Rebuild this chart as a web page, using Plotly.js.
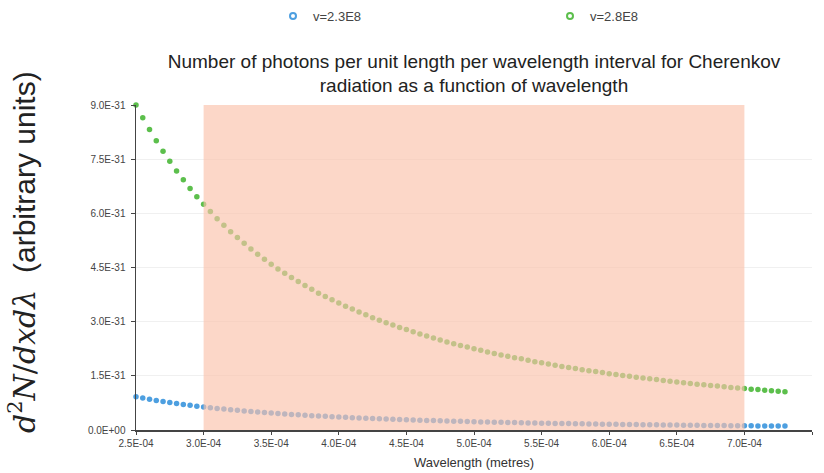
<!DOCTYPE html>
<html>
<head>
<meta charset="utf-8">
<script src="https://cdn.plot.ly/plotly-3.0.1.min.js"></script>
<style>html,body{margin:0;padding:0;background:#fff;}#chart{width:824px;height:473px;}</style>
</head>
<body>
<div id="chart"></div>
<script>
// Wavelength (metres)
const wavelength = [
  2.50e-4,2.55e-4,2.60e-4,2.65e-4,2.70e-4,2.75e-4,2.80e-4,2.85e-4,2.90e-4,2.95e-4,
  3.00e-4,3.05e-4,3.10e-4,3.15e-4,3.20e-4,3.25e-4,3.30e-4,3.35e-4,3.40e-4,3.45e-4,
  3.50e-4,3.55e-4,3.60e-4,3.65e-4,3.70e-4,3.75e-4,3.80e-4,3.85e-4,3.90e-4,3.95e-4,
  4.00e-4,4.05e-4,4.10e-4,4.15e-4,4.20e-4,4.25e-4,4.30e-4,4.35e-4,4.40e-4,4.45e-4,
  4.50e-4,4.55e-4,4.60e-4,4.65e-4,4.70e-4,4.75e-4,4.80e-4,4.85e-4,4.90e-4,4.95e-4,
  5.00e-4,5.05e-4,5.10e-4,5.15e-4,5.20e-4,5.25e-4,5.30e-4,5.35e-4,5.40e-4,5.45e-4,
  5.50e-4,5.55e-4,5.60e-4,5.65e-4,5.70e-4,5.75e-4,5.80e-4,5.85e-4,5.90e-4,5.95e-4,
  6.00e-4,6.05e-4,6.10e-4,6.15e-4,6.20e-4,6.25e-4,6.30e-4,6.35e-4,6.40e-4,6.45e-4,
  6.50e-4,6.55e-4,6.60e-4,6.65e-4,6.70e-4,6.75e-4,6.80e-4,6.85e-4,6.90e-4,6.95e-4,
  7.00e-4,7.05e-4,7.10e-4,7.15e-4,7.20e-4,7.25e-4,7.30e-4
];
// v = 2.3E8
const v23 = [
  0.920e-31,0.884e-31,0.851e-31,0.819e-31,0.789e-31,0.760e-31,0.733e-31,0.708e-31,0.684e-31,0.661e-31,
  0.639e-31,0.618e-31,0.598e-31,0.579e-31,0.562e-31,0.544e-31,0.528e-31,0.512e-31,0.497e-31,0.483e-31,
  0.469e-31,0.456e-31,0.444e-31,0.432e-31,0.420e-31,0.409e-31,0.398e-31,0.388e-31,0.378e-31,0.369e-31,
  0.359e-31,0.351e-31,0.342e-31,0.334e-31,0.326e-31,0.318e-31,0.311e-31,0.304e-31,0.297e-31,0.290e-31,
  0.284e-31,0.278e-31,0.272e-31,0.266e-31,0.260e-31,0.255e-31,0.250e-31,0.244e-31,0.239e-31,0.235e-31,
  0.230e-31,0.225e-31,0.221e-31,0.217e-31,0.213e-31,0.209e-31,0.205e-31,0.201e-31,0.197e-31,0.194e-31,
  0.190e-31,0.187e-31,0.183e-31,0.180e-31,0.177e-31,0.174e-31,0.171e-31,0.168e-31,0.165e-31,0.162e-31,
  0.160e-31,0.157e-31,0.155e-31,0.152e-31,0.150e-31,0.147e-31,0.145e-31,0.143e-31,0.140e-31,0.138e-31,
  0.136e-31,0.134e-31,0.132e-31,0.130e-31,0.128e-31,0.126e-31,0.124e-31,0.123e-31,0.121e-31,0.119e-31,
  0.117e-31,0.116e-31,0.114e-31,0.112e-31,0.111e-31,0.109e-31,0.108e-31
];
// v = 2.8E8
const v28 = [
  9.00e-31,8.65e-31,8.32e-31,8.01e-31,7.72e-31,7.44e-31,7.17e-31,6.93e-31,6.69e-31,6.46e-31,
  6.25e-31,6.05e-31,5.85e-31,5.67e-31,5.49e-31,5.33e-31,5.17e-31,5.01e-31,4.87e-31,4.73e-31,
  4.59e-31,4.46e-31,4.34e-31,4.22e-31,4.11e-31,4.00e-31,3.90e-31,3.79e-31,3.70e-31,3.61e-31,
  3.52e-31,3.43e-31,3.35e-31,3.27e-31,3.19e-31,3.11e-31,3.04e-31,2.97e-31,2.91e-31,2.84e-31,
  2.78e-31,2.72e-31,2.66e-31,2.60e-31,2.55e-31,2.49e-31,2.44e-31,2.39e-31,2.34e-31,2.30e-31,
  2.25e-31,2.21e-31,2.16e-31,2.12e-31,2.08e-31,2.04e-31,2.00e-31,1.97e-31,1.93e-31,1.89e-31,
  1.86e-31,1.83e-31,1.79e-31,1.76e-31,1.73e-31,1.70e-31,1.67e-31,1.64e-31,1.62e-31,1.59e-31,
  1.56e-31,1.54e-31,1.51e-31,1.49e-31,1.46e-31,1.44e-31,1.42e-31,1.40e-31,1.37e-31,1.35e-31,
  1.33e-31,1.31e-31,1.29e-31,1.27e-31,1.25e-31,1.23e-31,1.22e-31,1.20e-31,1.18e-31,1.16e-31,
  1.15e-31,1.13e-31,1.12e-31,1.10e-31,1.09e-31,1.07e-31,1.06e-31
];
const seriesNames = ["v=2.3E8", "v=2.8E8"];
const xTickVals = [2.5e-4,3.0e-4,3.5e-4,4.0e-4,4.5e-4,5.0e-4,5.5e-4,6.0e-4,6.5e-4,7.0e-4,7.5e-4];
const xTickText = ["2.5E-04","3.0E-04","3.5E-04","4.0E-04","4.5E-04","5.0E-04","5.5E-04","6.0E-04","6.5E-04","7.0E-04","7.5E-0"];
const yTickVals = [0, 1.5e-31, 3.0e-31, 4.5e-31, 6.0e-31, 7.5e-31, 9.0e-31];
const yTickText = ["0.0E+00","1.5E-31","3.0E-31","4.5E-31","6.0E-31","7.5E-31","9.0E-31"];
const bandStart = 3.0e-4, bandEnd = 7.0e-4;

const blue = '#4d9fe0', green = '#5cbf4c';
const font = 'Liberation Sans, Arial, Helvetica, sans-serif';

const traces = [
  {x: wavelength, y: v23, type: 'scatter', mode: 'markers', name: seriesNames[0], showlegend: false,
   marker: {color: blue, size: 5.5}, cliponaxis: false},
  {x: wavelength, y: v28, type: 'scatter', mode: 'markers', name: seriesNames[1], showlegend: false,
   marker: {color: green, size: 5.5}, cliponaxis: false},
  {x: [null], y: [null], type: 'scatter', mode: 'markers', name: seriesNames[0], legend: 'legend',
   marker: {color: blue, size: 6, symbol: 'circle-open', line: {width: 2}}},
  {x: [null], y: [null], type: 'scatter', mode: 'markers', name: seriesNames[1], legend: 'legend2',
   marker: {color: green, size: 6, symbol: 'circle-open', line: {width: 2}}}
];

const legendBase = {
  orientation: 'h', xref: 'container', yref: 'container', xanchor: 'left', yanchor: 'middle',
  y: 1 - 16/473, font: {family: font, size: 13, color: '#444'}, bgcolor: 'rgba(0,0,0,0)'
};

const layout = {
  width: 824, height: 473,
  margin: {l: 136, r: 12, t: 105, b: 43, autoexpand: false},
  paper_bgcolor: '#fff', plot_bgcolor: '#fff',
  font: {family: font, color: '#444'},
  title: {
    text: 'Number of photons per unit length per wavelength interval for Cherenkov<br>radiation as a function of wavelength',
    font: {family: font, size: 19, color: '#222'},
    xref: 'paper', x: 0.5, xanchor: 'center',
    yref: 'container', y: 0.857, yanchor: 'top'
  },
  showlegend: true,
  legend: Object.assign({}, legendBase, {x: 273/824}),
  legend2: Object.assign({}, legendBase, {x: 550/824}),
  xaxis: {
    range: [2.5e-4, 7.5e-4], tickmode: 'array', tickvals: xTickVals, ticktext: xTickText,
    showline: true, linecolor: '#444', linewidth: 1.5, ticks: 'outside', ticklen: 3, tickcolor: '#444',
    showgrid: false, zeroline: false,
    tickfont: {family: font, size: 10, color: '#444'},
    title: {text: 'Wavelength (metres)', font: {family: font, size: 13, color: '#333'}, standoff: 10}
  },
  yaxis: {
    range: [0, 9e-31], tickmode: 'array', tickvals: yTickVals, ticktext: yTickText,
    showline: true, linecolor: '#444', linewidth: 1.5, ticks: 'outside', ticklen: 4, tickcolor: '#444',
    ticklabelstandoff: 3,
    showgrid: true, gridcolor: '#f0f0f0', zeroline: false,
    tickfont: {family: font, size: 10, color: '#444'}
  },
  annotations: [{
    text: '<span style="font-family:DejaVu Serif, Liberation Serif, serif"><i>d</i><sup>2</sup><i>N</i>/<i>dxd</i><i>λ</i></span>  (arbitrary units)',
    font: {family: font, size: 30, color: '#222'},
    textangle: -90, showarrow: false,
    xref: 'paper', yref: 'paper',
    x: (22 - 136) / 676, y: (430 - 252) / 325, xanchor: 'center', yanchor: 'middle'
  }],
  shapes: [{
    type: 'rect', xref: 'x', yref: 'y', x0: bandStart, x1: bandEnd, y0: 0, y1: 9e-31,
    fillcolor: 'rgb(251,194,171)', opacity: 0.65, line: {width: 0}, layer: 'above'
  }]
};

Plotly.newPlot('chart', traces, layout, {displayModeBar: false, staticPlot: true});
</script>
</body>
</html>
